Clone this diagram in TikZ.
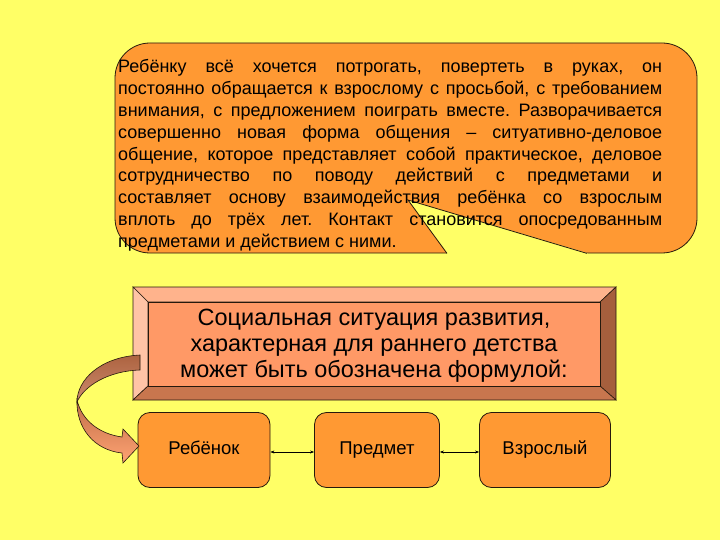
\documentclass[tikz,border=0pt]{standalone}
\usepackage{fontspec}
\setmainfont{Liberation Sans}
\frenchspacing
\definecolor{bgyellow}{HTML}{FFFF66}
\definecolor{calloutorange}{HTML}{FF9933}
\definecolor{frameface}{HTML}{FF9966}
\definecolor{frametop}{HTML}{FFB38C}
\definecolor{frameleft}{HTML}{FFC4A6}
\definecolor{framebottom}{HTML}{C8764E}
\definecolor{frameright}{HTML}{A65F3D}
\definecolor{arrowdark}{HTML}{C06E48}
\definecolor{arrowlight}{HTML}{FFA373}
\usetikzlibrary{arrows.meta}
\newcommand{\jline}[1]{\makebox[544pt][s]{#1}}
\tikzset{
  outline/.style={draw=black!80!brown, line width=0.8pt},
  termbox/.style={outline, fill=calloutorange, rounded corners=12pt, minimum height=75pt,
    font=\fontsize{18.5}{20}\selectfont, text height=13pt, text depth=4pt, inner sep=0pt},
  link/.style={draw=black, line width=0.5pt, {Stealth[length=4pt,width=3pt]}-{Stealth[length=4pt,width=3pt]}}
}
\begin{document}
\begin{tikzpicture}[x=1pt,y=-1pt]
\fill[bgyellow] (0,0) rectangle (720,540);
\useasboundingbox (0,0) rectangle (720,540);
% callout
\draw[outline, fill=calloutorange, rounded corners=35pt] (115,43) rectangle (697,253);
\fill[bgyellow] (446,256) -- (447,253) -- (408,200) -- (587,253) -- (589,256) -- cycle;
\draw[outline, line join=miter] (447,253.4) -- (408,200) -- (587,253.4);
\node[anchor=north west, align=left, inner sep=0pt,
  font=\fontsize{18}{21.9}\selectfont] (txt) at (118,59)
{\jline{Ребёнку всё хочется потрогать, повертеть в руках, он}\\
\jline{постоянно обращается к взрослому с просьбой, с требованием}\\
\jline{внимания, с предложением поиграть вместе. Разворачивается}\\
\jline{совершенно новая форма общения – ситуативно-деловое}\\
\jline{общение, которое представляет собой практическое, деловое}\\
\jline{сотрудничество по поводу действий с предметами и}\\
\jline{составляет основу взаимодействия ребёнка со взрослым}\\
\jline{вплоть до трёх лет. Контакт становится опосредованным}\\
предметами и действием с ними.};
% bevel frame
\filldraw[outline, line width=0.6pt, fill=frametop] (133,287) -- (616,287) -- (600,302) -- (148,302) -- cycle;
\filldraw[outline, line width=0.6pt, fill=frameleft] (133,287) -- (148,302) -- (148,386) -- (133,400) -- cycle;
\filldraw[outline, line width=0.6pt, fill=frameright] (616,287) -- (616,400) -- (600,386) -- (600,302) -- cycle;
\filldraw[outline, line width=0.6pt, fill=framebottom] (133,400) -- (148,386) -- (600,386) -- (616,400) -- cycle;
\node[outline, line width=0.6pt, fill=frameface, minimum width=452pt, minimum height=84pt, inner sep=0pt] (frame) at (374,344) {};
\node[align=center, inner sep=0pt, font=\fontsize{23.5}{26}\selectfont] (frametxt) at (374,346)
{Социальная ситуация развития,\\ характерная для раннего детства\\ может быть обозначена формулой:};
% terms
\node[termbox, minimum width=132pt] (child) at (204,450) {Ребёнок};
\node[termbox, minimum width=125pt] (object) at (377,450) {Предмет};
\node[termbox, minimum width=131pt] (adult) at (545,450) {Взрослый};
\draw[link] ([yshift=-2pt]child.east) -- ([yshift=-2pt]object.west);
\draw[link] ([yshift=-2pt]object.east) -- ([yshift=-2pt]adult.west);
% curved block arrow
\draw[outline, line width=0.6pt, top color=arrowdark!90!black, bottom color=arrowdark!80!white]
  (140,355) .. controls (100,357) and (77,380) .. (77,402)
  .. controls (84,386) and (108,371) .. (140,370) -- cycle;
\draw[outline, line width=0.6pt, top color=arrowdark, bottom color=arrowlight]
  (77,400) .. controls (82,421) and (100,434) .. (122,437)
  -- (123,429) -- (139,446) -- (123,463) -- (122,453)
  .. controls (94,450) and (76,428) .. (77,400) -- cycle;
\end{tikzpicture}
\end{document}
